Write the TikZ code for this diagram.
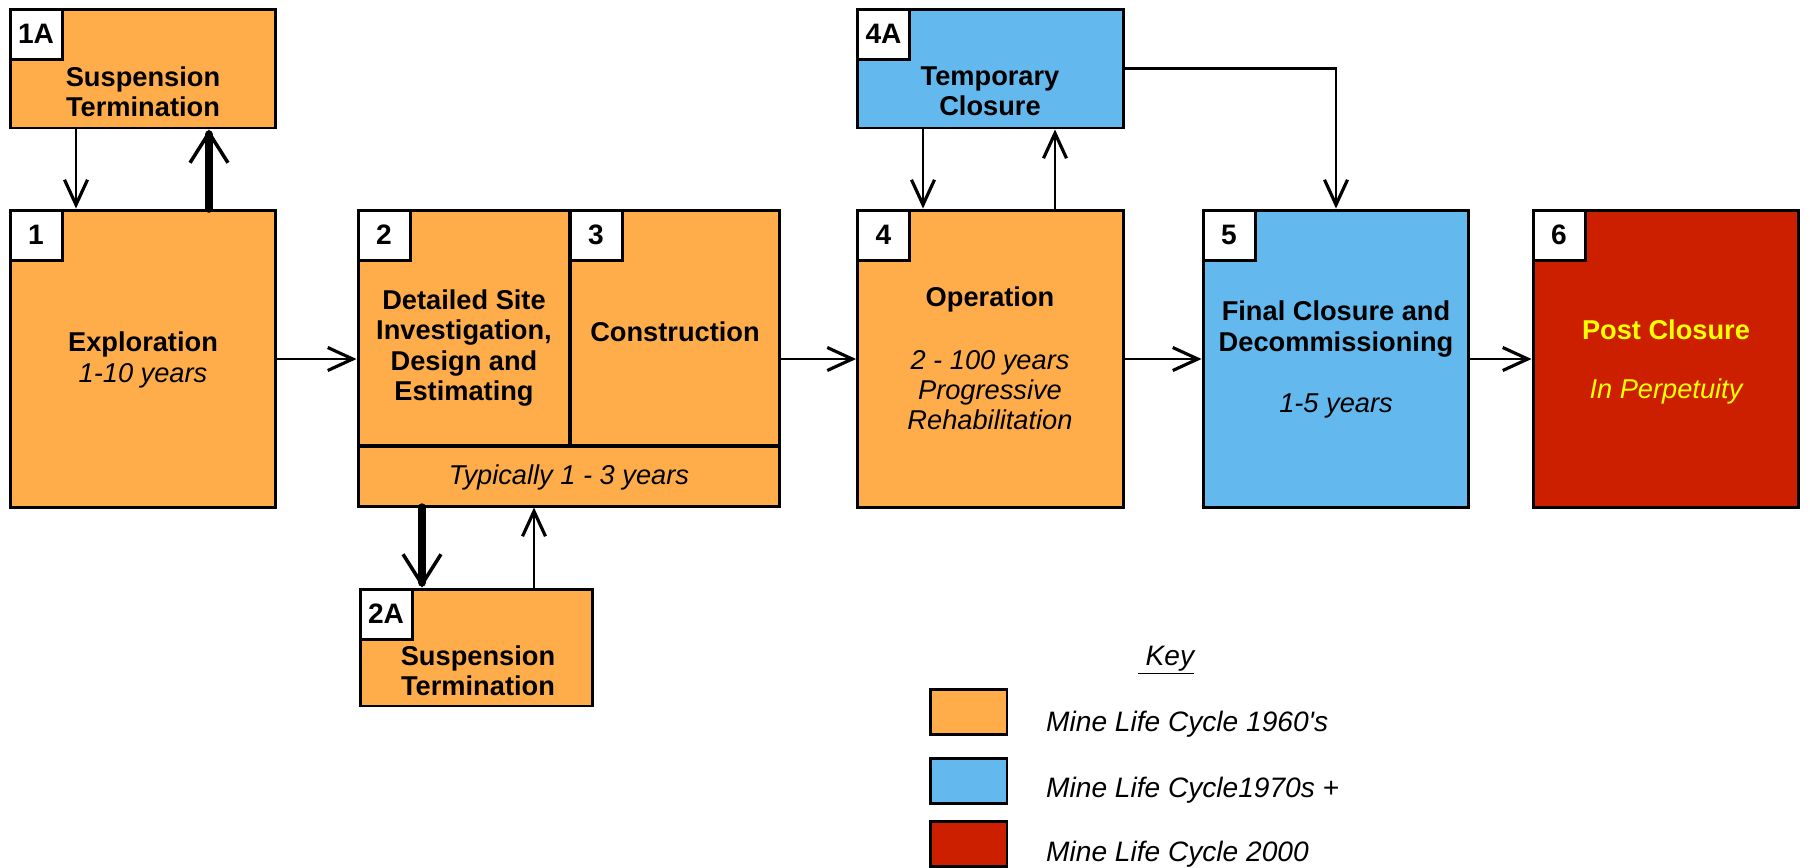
\documentclass[tikz,border=0pt]{standalone}
\usepackage{fontspec}
\setmainfont{Liberation Sans}
\usetikzlibrary{arrows.meta, positioning}

\definecolor{sixties}{HTML}{FFAD4B}
\definecolor{seventies}{HTML}{63B8EE}
\definecolor{twothousand}{HTML}{CC1F00}
\definecolor{postyellow}{HTML}{FFFF00}

\newcommand{\yrs}[1]{{\mdseries\itshape #1}}

\tikzset{
    box/.style={draw, line width=1.7pt, inner sep=0pt},
    stage/.style={box, minimum width=5.32cm, minimum height=5.96cm},
    side/.style={box, minimum width=5.32cm, minimum height=2.38cm},
    numbox/.style={box, fill=white, minimum width=1.04cm, minimum height=1cm, font=\fontsize{16}{18}\selectfont\bfseries},
    title/.style={align=center, font=\fontsize{15.5}{17.2}\selectfont\bfseries},
    keybox/.style={box, minimum width=1.54cm, minimum height=0.9cm},
    keytext/.style={anchor=west, font=\fontsize{16}{18}\selectfont\itshape},
    thinarrow/.style={line width=1.6pt, -{Straight Barb[length=0.5cm, width=0.46cm, line width=1.8pt]}},
    thickarrow/.style={line width=4.8pt, line cap=round, -{Straight Barb[length=0.6cm, width=0.76cm, line width=2pt]}}
}

\begin{document}
\begin{tikzpicture}[x=0.02cm, y=-0.02cm]
    \useasboundingbox[fill=white] (0,0) rectangle (1810,867);

    \node[side, fill=sixties] (s1a) at (143,68.5) {};
    \node[stage, fill=sixties] (ex) at (143,359) {};
    \node[box, fill=sixties, minimum width=4.24cm, minimum height=4.72cm] (dsi) at (464,328) {};
    \node[box, fill=sixties, minimum width=4.2cm, minimum height=4.72cm] (con) at (675,328) {};
    \node[box, fill=sixties, minimum width=8.44cm, minimum height=1.2cm] (typ) at (569,476) {};
    \node[box, fill=sixties, minimum width=4.66cm, minimum height=2.34cm] (s2a) at (476.5,647.5) {};
    \node[side, fill=seventies] (t4a) at (990.5,68.5) {};
    \node[stage, fill=sixties] (op) at (990.5,359) {};
    \node[stage, fill=seventies] (fc) at (1336,359) {};
    \node[stage, fill=twothousand] (pc) at (1666,359) {};

    \node[numbox, anchor=north west] (n1a) at (s1a.north west) {1A};
    \node[numbox, anchor=north west] (n1) at (ex.north west) {1};
    \node[numbox, anchor=north west] (n2) at (dsi.north west) {2};
    \node[numbox, anchor=north west] (n3) at (con.north west) {3};
    \node[numbox, anchor=north west] (n2a) at (s2a.north west) {2A};
    \node[numbox, anchor=north west] (n4a) at (t4a.north west) {4A};
    \node[numbox, anchor=north west] (n4) at (op.north west) {4};
    \node[numbox, anchor=north west] (n5) at (fc.north west) {5};
    \node[numbox, anchor=north west] (n6) at (pc.north west) {6};

    \node[title] (s1a-t) at (143,92) {Suspension\\Termination};
    \node[title] (ex-t) at (143,360) {Exploration\\\yrs{1-10 years}};
    \node[title] (dsi-t) at (464,348) {Detailed Site\\Investigation,\\Design and\\Estimating};
    \node[title] (con-t) at (675,332) {Construction};
    \node[title] (typ-t) at (569,477) {\yrs{Typically 1 - 3 years}};
    \node[title] (s2a-t) at (478,671) {Suspension\\Termination};
    \node[title] (t4a-t) at (990,91) {Temporary\\Closure};
    \node[title] (op-t) at (990,299) {Operation};
    \node[title] (op-y) at (990,390) {\yrs{2 - 100 years}\\\yrs{Progressive}\\\yrs{Rehabilitation}};
    \node[title] (fc-t) at (1336,329) {Final Closure and\\Decommissioning};
    \node[title] (fc-y) at (1336,406) {\yrs{1-5 years}};
    \node[title, text=postyellow] (pc-t) at (1666,330) {Post Closure};
    \node[title, text=postyellow] (pc-y) at (1666,391) {\yrs{In Perpetuity}};

    \draw[thinarrow] (76,0 |- s1a.south) -- (76,0 |- ex.north);
    \draw[thickarrow] (209,0 |- ex.north) -- (209,0 |- s1a.south);
    \draw[thinarrow] (ex.east) -- (ex.east -| dsi.west);
    \draw[thickarrow] (422,0 |- typ.south) -- (422,0 |- s2a.north);
    \draw[thinarrow] (534,0 |- s2a.north) -- (534,0 |- typ.south);
    \draw[thinarrow] (op.west -| con.east) -- (op.west);
    \draw[thinarrow] (923,0 |- t4a.south) -- (923,0 |- op.north);
    \draw[thinarrow] (1055,0 |- op.north) -- (1055,0 |- t4a.south);
    \draw[thinarrow] (t4a.east) -| (fc.north);
    \draw
    (op.east) edge[thinarrow] (fc.west)
    (fc.east) edge[thinarrow] (pc.west);

    \node[font=\fontsize{16}{18}\selectfont\itshape] (key) at (1166,660) {\underline{\ Key}};
    \node[keybox, fill=sixties] (k1) at (968.5,711.5) {};
    \node[keybox, fill=seventies] (k2) at (968.5,780.5) {};
    \node[keybox, fill=twothousand] (k3) at (968.5,843.5) {};
    \node[keytext] (k1-t) at (1040,724) {Mine Life Cycle 1960\textquotesingle s};
    \node[keytext] (k2-t) at (1040,790) {Mine Life Cycle1970s +};
    \node[keytext] (k3-t) at (1040,854) {Mine Life Cycle 2000};
\end{tikzpicture}
\end{document}
